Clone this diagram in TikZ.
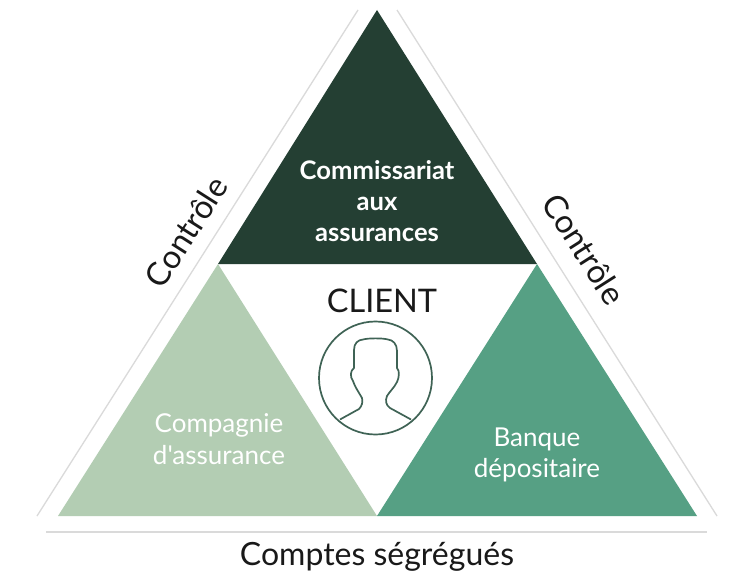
\documentclass[tikz,border=0pt]{standalone}
\usepackage{fontspec}
\setmainfont{Carlito}
\newfontfamily\lato{Lato}
\definecolor{darkg}{HTML}{243F33}
\definecolor{lightg}{HTML}{B3CDB3}
\definecolor{midg}{HTML}{56A084}
\definecolor{icong}{HTML}{3F6355}
\definecolor{rule}{HTML}{DADADA}
\tikzset{
  px/.style={x=1pt,y=-1pt},
  rulel/.style={draw=rule,line width=1.3pt},
  inlabel/.style={text=white,font=\lato\fontsize{25.6}{31}\selectfont\bfseries,align=center,inner sep=0pt},
  inlabelb/.style={text=white,font=\lato\fontsize{26}{31.5}\selectfont,align=center,inner sep=0pt},
  blk/.style={text=black!90,font=\lato\fontsize{32.5}{38}\selectfont,inner sep=0pt},
  iconl/.style={draw=icong,line width=1.7pt,line join=round}
}
\begin{document}
\begin{tikzpicture}[px]
\useasboundingbox (0,0) rectangle (734,578);
\fill[white] (0,0) rectangle (734,578);
\fill[darkg] (377,10) -- (218,264) -- (537,264) -- cycle;
\fill[lightg] (218,264) -- (58,516) -- (377,516) -- cycle;
\fill[midg] (537,264) -- (377,516) -- (697,516) -- cycle;
\coordinate (la) at (358,10); \coordinate (lb) at (37,516);
\coordinate (ra) at (397,10); \coordinate (rb) at (717,516);
\coordinate (ba) at (46,532); \coordinate (bb) at (707,532);
\draw[rulel] (la) -- (lb);
\draw[rulel] (ra) -- (rb);
\draw[rulel] (ba) -- (bb);
\node[inlabel] (comm) at (377,201) {Commissariat\\aux\\assurances};
\node[inlabelb] (comp) at (219,439) {Compagnie\\d'assurance};
\node[inlabelb] (banq) at (537,455) {Banque\\dépositaire};
\node[blk] (cl) at (382,301) {CLIENT};
\node[blk,rotate=-57.5] (cr) at (584,249) {Contrôle};
\node[blk,rotate=57.5] (cg) at (186,232) {Contrôle};
\node[blk,font=\lato\fontsize{32}{38}\selectfont] (cs) at (377,557) {Comptes ségrégués};
\node[circle,draw=icong,line width=1.7pt,minimum size=113pt,inner sep=0pt] (icon) at (375.5,378) {};
\draw[iconl] (340,419.5) -- (359,409) .. controls (362,406) and (363,402) .. (362,398)
  .. controls (358,391) and (355,387) .. (353,381)
  .. controls (350,377) and (350,371) .. (354,368)
  -- (354,350) .. controls (354,343) and (358,340) .. (363,339.5)
  .. controls (368,338) and (383,338) .. (388,339.5)
  .. controls (393,340) and (397,344) .. (397,351)
  -- (397,368) .. controls (400,371) and (399,378) .. (397,382)
  .. controls (394,388) and (390,391) .. (387,396)
  .. controls (385,401) and (386,405) .. (390,408)
  -- (411,419.5);
\end{tikzpicture}
\end{document}
